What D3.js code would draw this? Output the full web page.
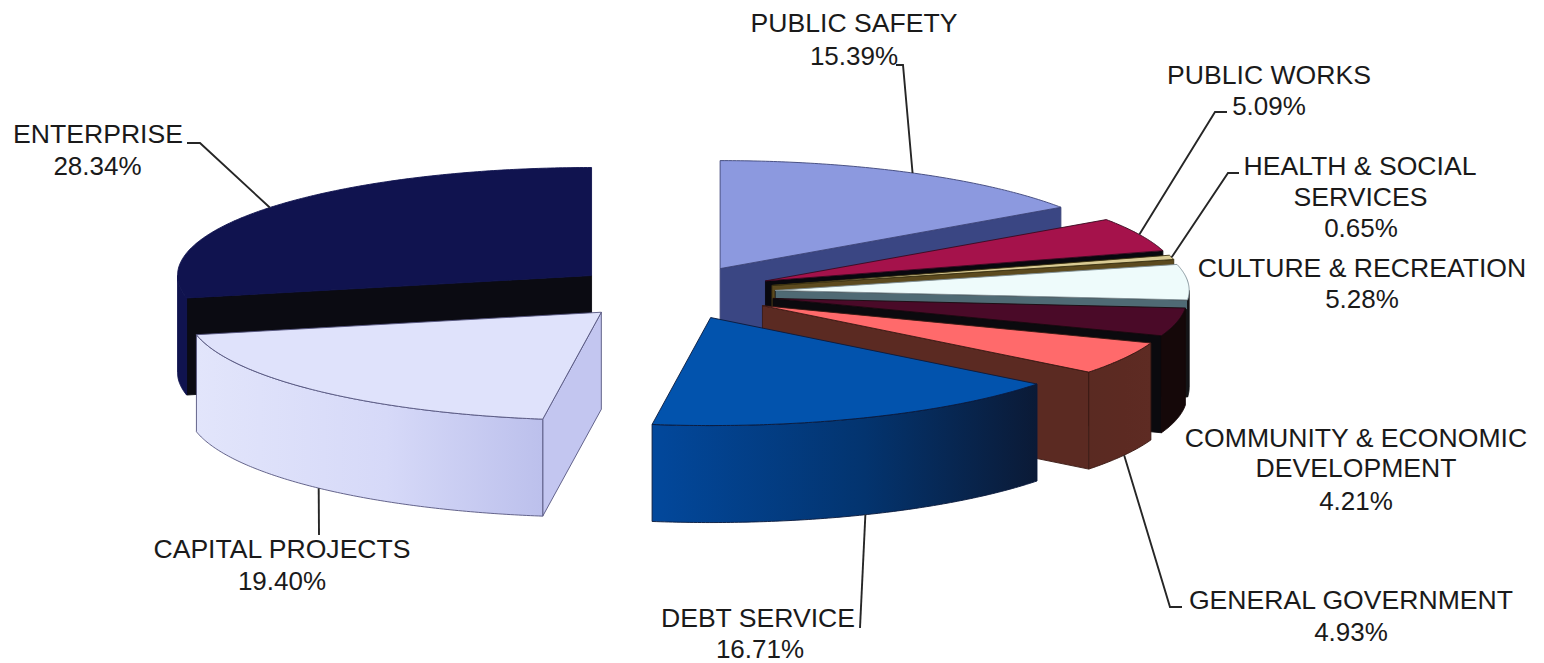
<!DOCTYPE html>
<html>
<head>
<meta charset="utf-8">
<style>
html,body{margin:0;padding:0;background:#fff}
text{font-family:"Liberation Sans",Arial,sans-serif;fill:#1a1a1a}
</style>
<script src="https://cdn.jsdelivr.net/npm/d3@7/dist/d3.min.js"></script>
</head>
<body>
<svg id="chart" width="1544" height="663"></svg>
<script>
// Budget shares by function, clockwise from twelve o'clock.
const categories = ["PUBLIC SAFETY","PUBLIC WORKS","HEALTH & SOCIAL SERVICES","CULTURE & RECREATION",
  "COMMUNITY & ECONOMIC DEVELOPMENT","GENERAL GOVERNMENT","DEBT SERVICE","CAPITAL PROJECTS","ENTERPRISE"];
const shares = [15.39,5.09,0.65,5.28,4.21,4.93,16.71,19.40,28.34];

const topColors   = ["#8c99df","#a5124b","#d9cb94","#eefbfb","#4a0a28","#ff6a6b","#0253ad","#dfe2fb","#10134f"];
const cutColors   = ["#3a4683","#08080e","#5c4a1e","#4f6a74","#0b0a0e","#5b2a22","#0a1a3c","#c3c6f0","#0b0b12"];
const cutLower    = ["#3a4683","#08080e","#5c4a1e","#141416","#0b0a0e","#5b2a22","#0a1a3c","#c3c6f0","#0b0b12"];
const cutEdges    = ["#3c4478","#08080e","#3a3010","#141416","#0b0a0e","#3a1a14","#0a1a3c","#55557f","#0b0b12"];
const wallLeft    = ["#3a4683","#0b0a10","#5c4a1e","#141416","#150809","#5a2a22","#02489c","#e2e5fb","#10134f"];
const wallMiddle  = ["#3a4683","#0b0a10","#5c4a1e","#141416","#150809","#5c2a22","#03346f","#d6d9f8","#10134f"];
const wallRight   = ["#3a4683","#0b0a10","#5c4a1e","#141416","#150809","#5e2b23","#0b1a36","#bcc0ec","#10134f"];
const edgeColors  = ["#3c4478","#3a0a20","#3a3010","#7f8f96","#1a0a10","#3a1a14","#0a1a3c","#55557f","#10134f"];
const wallEdges   = ["#3c4478","#0b0a10","#3a3010","#141416","#150809","#3a1a14","#0a1a3c","#55557f","#10134f"];

// Label text rows: [line, centre x, baseline y].
const labelRows = [
  [["PUBLIC SAFETY",854,32]],
  [["PUBLIC WORKS",1269,84]],
  [["HEALTH & SOCIAL",1360,175],["SERVICES",1360.5,206]],
  [["CULTURE & RECREATION",1362,276.5]],
  [["COMMUNITY & ECONOMIC",1356,447],["DEVELOPMENT",1356,477]],
  [["GENERAL GOVERNMENT",1351,609]],
  [["DEBT SERVICE",758,627]],
  [["CAPITAL PROJECTS",282,558]],
  [["ENTERPRISE",98,143]]
];
const valueRows = [[854,65],[1269,115],[1361,236.5],[1362,308],[1356,510],[1351,641],[760,657.5],[282,590],[97.5,175]];

// Leader routes: where the line leaves the label, then the bend, before reaching the slice.
const leaderRoutes = [
  [[896,65],[903,65]],
  [[1227,112],[1215,112]],
  [[1239,173],[1228,173]],
  null,
  null,
  [[1182,607],[1170,607]],
  [[860,628]],
  [[319,535]],
  [[187,143],[200,143]]
];

const svg = d3.select("#chart");
const defs = svg.append("defs");

// Orthographic view of the disc: unit coordinates map onto screen pixels.
const x = d3.scaleLinear().domain([-1,1]).range([672-414,672+414]);
const y = d3.scaleLinear().domain([-1,1]).range([292.5-108,292.5+108]);
const depth = 97;
const explode = 0.25;

const pie = d3.pie().sort(null);
const slices = pie(shares).map((d,i)=>{
  const mid = (d.startAngle+d.endAngle)/2;
  return {i, a0:d.startAngle, a1:d.endAngle, mid,
          ox:explode*Math.sin(mid), oy:-explode*Math.cos(mid)};
});

const line = d3.line();
const rim = (s,a,dz=0)=>[x(s.ox+Math.sin(a)), y(s.oy-Math.cos(a))+dz];
const apex = (s,dz=0)=>[x(s.ox), y(s.oy)+dz];
const arcPoints = (s,a0,a1,dz=0)=>{
  const n = Math.max(2,Math.ceil((a1-a0)/0.01));
  return d3.range(n+1).map(k=>rim(s,a0+(a1-a0)*k/n,dz));
};

// Paint from the back of the disc towards the viewer.
const order = slices.slice().sort((p,q)=>d3.descending(Math.cos(p.mid),Math.cos(q.mid)));

order.forEach(s=>{
  const g = svg.append("g");
  const face = (pts,fill,edge)=>g.append("path").attr("d",line(pts)+"Z").attr("fill",fill)
    .attr("stroke",edge).attr("stroke-width",0.9).attr("stroke-linejoin","round");

  // Radial cut faces that turn towards the viewer; the lit band falls off sharply lower down.
  [[s.a0,Math.sin(s.a0)<-1e-6],[s.a1,Math.sin(s.a1)>1e-6]].forEach(([a,show])=>{
    if(!show) return;
    const id = "cut"+s.i;
    const lg = defs.append("linearGradient").attr("id",id)
      .attr("x1",0).attr("x2",0).attr("y1",0).attr("y2",1);
    lg.append("stop").attr("offset","17%").attr("stop-color",cutColors[s.i]);
    lg.append("stop").attr("offset","18%").attr("stop-color",cutLower[s.i]);
    face([apex(s),rim(s,a),rim(s,a,depth),apex(s,depth)],`url(#${id})`,cutEdges[s.i]);
  });

  // Curved outer wall on the front half of the disc; shading runs left to right on screen.
  const w0 = Math.max(s.a0,Math.PI/2), w1 = Math.min(s.a1,Math.PI*1.5);
  if(w1>w0){
    const id = "wall"+s.i;
    const xs = [rim(s,w0)[0],rim(s,w1)[0]];
    const lg = defs.append("linearGradient").attr("id",id)
      .attr("gradientUnits","userSpaceOnUse")
      .attr("x1",d3.min(xs)).attr("x2",d3.max(xs)).attr("y1",0).attr("y2",0);
    lg.append("stop").attr("offset","0%").attr("stop-color",wallLeft[s.i]);
    lg.append("stop").attr("offset","55%").attr("stop-color",wallMiddle[s.i]);
    lg.append("stop").attr("offset","100%").attr("stop-color",wallRight[s.i]);
    face(arcPoints(s,w0,w1).concat(arcPoints(s,w0,w1,depth).reverse()),`url(#${id})`,wallEdges[s.i]);
  }

  // Top face.
  face([apex(s)].concat(arcPoints(s,s.a0,s.a1)),topColors[s.i],edgeColors[s.i]);
});

// Leader lines start at the middle of each slice's outer edge.
const leaders = svg.append("g").attr("fill","none").attr("stroke","#262626").attr("stroke-width",1.9);
slices.forEach(s=>{
  const route = leaderRoutes[s.i];
  if(!route) return;
  const onFront = Math.cos(s.mid)<0;
  leaders.append("path").attr("d",line(route.concat([rim(s,s.mid,onFront?depth:0)])));
});

const labels = svg.append("g").attr("text-anchor","middle");
labelRows.forEach((rows,i)=>{
  rows.forEach(([t,cx,by])=>labels.append("text").attr("font-size",26.6).attr("x",cx).attr("y",by).text(t));
  labels.append("text").attr("font-size",26).attr("x",valueRows[i][0]).attr("y",valueRows[i][1])
    .text(shares[i].toFixed(2)+"%");
});
</script>
</body>
</html>
